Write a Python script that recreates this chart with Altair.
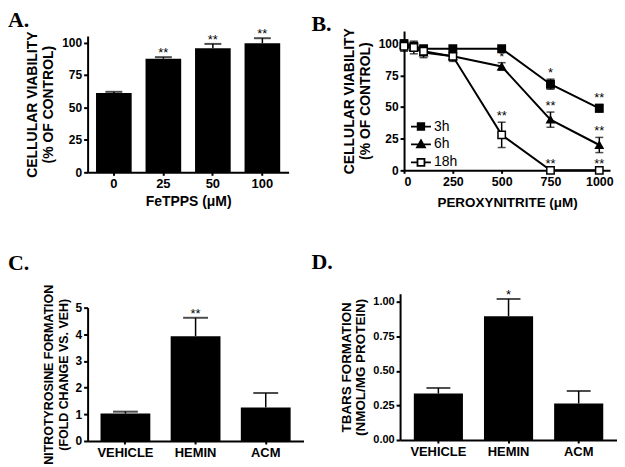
import altair as alt
import pandas as pd

# ---------------- data ----------------
# Panel A
fe_conc = ["0", "25", "50", "100"]
fe_viab = [61, 87.5, 95.5, 99.5]
fe_err = [1, 1.2, 3.4, 3.8]
fe_sig = ["", "**", "**", "**"]

# Panel B
onoo_conc = [0, 50, 100, 250, 500, 750, 1000]
series = ["3h", "6h", "18h"]
series_shape = ["square", "triangle-up", "square"]
series_fill = ["black", "black", "white"]
v3h = [100, 98, 96, 96, 96, 68, 49]
e3h = [3, 2, 2, 2, 1, 4, 3]
s3h = ["", "", "", "", "", "*", "**"]
v6h = [99, 97, 93, 90, 82, 40, 20]
e6h = [3, 3, 4, 3, 3, 6, 6]
s6h = ["", "", "", "", "*", "**", "**"]
v18h = [98, 97, 94, 90, 28, 0, 0]
e18h = [4, 5, 3, 4, 10, 0, 0]
s18h = ["", "", "", "", "**", "**", "**"]

# Panels C and D
groups = ["VEHICLE", "HEMIN", "ACM"]
nitro = [1.03, 3.93, 1.26]
nitro_err = [0.07, 0.69, 0.54]
nitro_sig = ["", "**", ""]
tbars = [0.337, 0.897, 0.265]
tbars_err = [0.04, 0.125, 0.09]
tbars_sig = ["", "*", ""]

SANS = "Liberation Sans"
SERIF = "Liberation Serif"


def panel_title(letter, dx, offset):
    return alt.TitleParams(
        text=letter, anchor="start", frame="group", dx=dx, offset=offset,
        font=SERIF, fontSize=22, fontWeight="bold", color="black",
    )


def bar_panel(cats, vals, errs, sigs, width, height, yscale, yaxis, xaxis,
              pi, po, capw, letter, dx, toff):
    df = pd.DataFrame({"cat": cats, "v": vals, "e": errs, "sig": sigs})
    base = alt.Chart(df).transform_calculate(hi="datum.v + datum.e")
    xenc = alt.X("cat:N", sort=cats,
                 scale=alt.Scale(paddingInner=pi, paddingOuter=po),
                 axis=xaxis)
    yv = alt.Y("v:Q", scale=yscale, axis=yaxis)
    yh = alt.Y("hi:Q", scale=yscale, axis=yaxis)
    rule = base.mark_rule(color="black", strokeWidth=1.5).encode(
        x=xenc, y=yv, y2="hi:Q")
    bars = base.mark_bar(color="black").encode(x=xenc, y=yv)
    cap = base.mark_tick(color="black", thickness=2, size=capw,
                         orient="horizontal").encode(x=xenc, y=yh)
    stars = base.mark_text(font=SANS, fontSize=13, color="black",
                           baseline="alphabetic", dy=0).encode(
        x=xenc, y=yh, text="sig:N")
    return alt.layer(rule, bars, cap, stars).properties(
        width=width, height=height, title=panel_title(letter, dx, toff))


def yaxis(values, title, tfs, tlh, lfs, tpad, fmt=None):
    kw = dict(values=values, title=title, titleFontSize=tfs,
              titleLineHeight=tlh, labelFontSize=lfs, tickSize=4,
              labelPadding=2, titlePadding=tpad, labelOverlap=False)
    if fmt:
        kw["format"] = fmt
    return alt.Axis(**kw)


# ---------- Panel A ----------
panelA = bar_panel(
    fe_conc, fe_viab, fe_err, fe_sig, 202, 142,
    alt.Scale(domain=[0, 105], range=[142, 5], nice=False),
    yaxis([0, 25, 50, 75, 100], ["CELLULAR VIABILITY", "(% OF CONTROL)"],
          14, 16, 12, 6),
    alt.Axis(title="FeTPPS (μM)", labelAngle=0, labelFontSize=13,
             titleFontSize=14, tickSize=3, labelPadding=2, titlePadding=4,
             labelOverlap=False),
    0.28, 0.17, 17, "A.", -80, -4)

# ---------- Panel B ----------
rows = []
for s, vals, errs, sigs in [("3h", v3h, e3h, s3h), ("6h", v6h, e6h, s6h),
                            ("18h", v18h, e18h, s18h)]:
    for c, v, e, g in zip(onoo_conc, vals, errs, sigs):
        rows.append({"conc": c, "v": v, "e": e, "sig": g, "series": s})
dfb = pd.DataFrame(rows)
bbase = alt.Chart(dfb).transform_calculate(
    lo="datum.v - datum.e", hi="datum.v + datum.e")
xs = alt.Scale(domain=[0, 1055], nice=False, zero=False)
ys = alt.Scale(domain=[0, 110], nice=False)
bx_axis = alt.Axis(values=[0, 250, 500, 750, 1000], format="d",
                   title="PEROXYNITRITE (μM)", labelFontSize=12.5,
                   titleFontSize=13.5, tickSize=3, labelPadding=2,
                   titlePadding=8, labelOverlap=False)
by_axis = yaxis([0, 25, 50, 75, 100], ["CELLULAR VIABILITY", "(% OF CONTROL)"],
                14, 16, 12, 6)
bx = alt.X("conc:Q", scale=xs, axis=bx_axis)
byv = alt.Y("v:Q", scale=ys, axis=by_axis)
byh = alt.Y("hi:Q", scale=ys, axis=by_axis)
byl = alt.Y("lo:Q", scale=ys, axis=by_axis)

line = bbase.mark_line(color="black", strokeWidth=2).encode(
    x=bx, y=byv, detail="series:N")
ebar = bbase.mark_rule(color="black", strokeWidth=1.5).encode(
    x=bx, y=byl, y2="hi:Q")
ecap_hi = bbase.mark_tick(color="black", thickness=1.5, size=8,
                          orient="horizontal").encode(x=bx, y=byh)
ecap_lo = bbase.mark_tick(color="black", thickness=1.5, size=8,
                          orient="horizontal").encode(x=bx, y=byl)

pt_layers = []
for s, shp, fc in zip(series, series_shape, series_fill):
    pt_layers.append(
        bbase.transform_filter(alt.datum.series == s).mark_point(
            shape=shp, filled=True, fill=fc, stroke="black", size=55,
            strokeWidth=1.5, opacity=1).encode(x=bx, y=byv))

leg_paths = [
    "M-1,0H1M-0.33,-0.33H0.33V0.33H-0.33Z",
    "M-1,0H1M0,-0.42L0.4,0.3H-0.4Z",
    "M-1,0H-0.35M0.35,0H1M-0.35,-0.35H0.35V0.35H-0.35Z",
]
leg = alt.Legend(orient="none", legendX=6, legendY=85, title=None,
                 labelFont=SANS, labelFontSize=14, labelFontWeight="normal",
                 labelColor="black", symbolSize=400, symbolStrokeWidth=1.8,
                 symbolStrokeColor="black", symbolOpacity=1, rowPadding=-4,
                 labelOffset=2, padding=0)
legend_layer = alt.Chart(pd.DataFrame({"series": series})).transform_filter(
    "false").mark_point(filled=True, strokeWidth=1.8).encode(
    shape=alt.Shape("series:N",
                    scale=alt.Scale(domain=series, range=leg_paths),
                    legend=leg),
    fill=alt.Fill("series:N",
                  scale=alt.Scale(domain=series, range=series_fill),
                  legend=leg),
    stroke=alt.Stroke("series:N",
                      scale=alt.Scale(domain=series,
                                      range=["black", "black", "black"]),
                      legend=leg))
bstars = bbase.mark_text(font=SANS, fontSize=13, color="black",
                         baseline="alphabetic", dy=-2).encode(
    x=bx, y=byh, text="sig:N")

panelB = alt.layer(line, ebar, ecap_hi, ecap_lo, *pt_layers, bstars,
                   legend_layer).properties(
    width=207, height=140, title=panel_title("B.", -93, -8))

# ---------- Panel C ----------
panelC = bar_panel(
    groups, nitro, nitro_err, nitro_sig, 217, 148,
    alt.Scale(domain=[0, 5], range=[148, 14], nice=False),
    yaxis([0, 1, 2, 3, 4, 5],
          ["NITROTYROSINE FORMATION", "(FOLD CHANGE VS. VEH)"],
          12.5, 15, 12, 5),
    alt.Axis(title=None, labelAngle=0, labelFontSize=13, tickSize=3,
             labelPadding=3, labelOverlap=False),
    0.29, 0.184, 25, "C.", -80, 9)

# ---------- Panel D ----------
panelD = bar_panel(
    groups, tbars, tbars_err, tbars_sig, 218, 147,
    alt.Scale(domain=[0, 1.06], nice=False),
    yaxis([0, 0.25, 0.5, 0.75, 1.0], ["TBARS FORMATION", "(NMOL/MG PROTEIN)"],
          13.5, 14.5, 11, 5, ".2f"),
    alt.Axis(title=None, labelAngle=0, labelFontSize=13, tickSize=3,
             labelPadding=3, labelOverlap=False),
    0.3, 0.196, 24, "D.", -89, 15)

indep = dict(shape="independent", fill="independent", stroke="independent")
top = alt.hconcat(panelA, panelB, spacing=23).resolve_scale(
    **indep).resolve_legend(**indep)
bottom = alt.hconcat(panelC, panelD, spacing=8)

chart = alt.vconcat(top, bottom, spacing=42).resolve_scale(
    **indep).resolve_legend(**indep).properties(
    padding=0
).configure_view(stroke=None).configure_axis(
    domainColor="black", domainWidth=2, tickColor="black", tickWidth=2,
    labelFont=SANS, labelFontWeight="bold", labelColor="black",
    titleFont=SANS, titleFontWeight="bold", titleColor="black", grid=False,
)

chart.save("out.html", embed_options={"renderer": "svg", "actions": False})
